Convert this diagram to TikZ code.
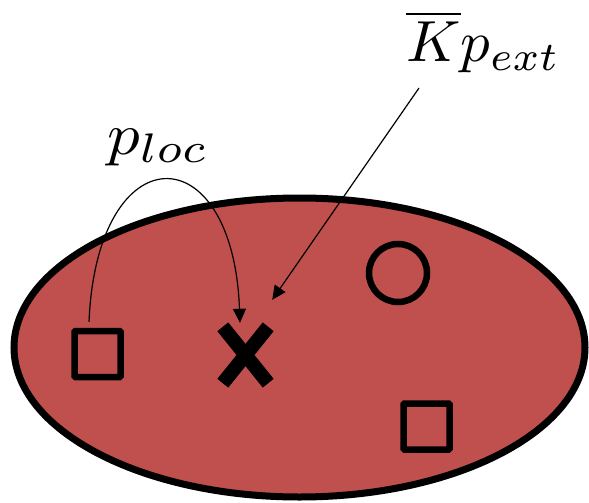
\documentclass[tikz,border=0pt]{standalone}
\usepackage{graphicx}
\usetikzlibrary{shapes.geometric,arrows.meta}
\definecolor{blobred}{RGB}{192,80,77}
\tikzset{
  blobshape/.style={ellipse, draw=black, fill=blobred, line width=7pt, inner sep=0pt},
  sqshape/.style={rectangle, draw=black, line width=6.5pt, rounded corners=1pt, minimum size=46pt, inner sep=0pt},
  circshape/.style={circle, draw=black, line width=6.5pt, minimum size=58pt, inner sep=0pt},
  crossline/.style={line width=14pt, line cap=butt},
  thinarrow/.style={line width=1.2pt, -{Triangle[length=14pt,width=13pt]}},
  mathlabel/.style={inner sep=0pt, anchor=base west}
}
\begin{document}
\begin{tikzpicture}[x=1pt,y=-1pt]
\useasboundingbox (0,0) rectangle (589,503);
\node[blobshape, minimum width=571pt, minimum height=299pt] (blob) at (299.5,347.5) {};
\node[circshape] (circ) at (398,273) {};
\node[sqshape] (sqa) at (97.5,354) {};
\node[sqshape] (sqb) at (426.5,426.5) {};
\node[minimum width=45pt, minimum height=56pt, inner sep=0pt] (cross) at (245.5,355) {};
\draw[crossline] (cross.north west) -- (cross.south east);
\draw[crossline] (cross.north east) -- (cross.south west);
\node[mathlabel] (ploc) at (107,154) {\scalebox{6.5}[5.9]{$p_{loc}$}};
\node[mathlabel] (kpext) at (406,62) {\scalebox{5.9}[5.8]{$\overline{K}p_{ext}$}};
\coordinate (kstart) at (419,88);
\draw[thinarrow] ([xshift=-8.5pt,yshift=6pt]sqa.north) .. controls (97,133) and (233,133) .. ([xshift=-5.5pt,yshift=4pt]cross.north);
\draw[thinarrow] (kstart) -- ([xshift=4pt,yshift=27pt]cross.north east);
\end{tikzpicture}
\end{document}
